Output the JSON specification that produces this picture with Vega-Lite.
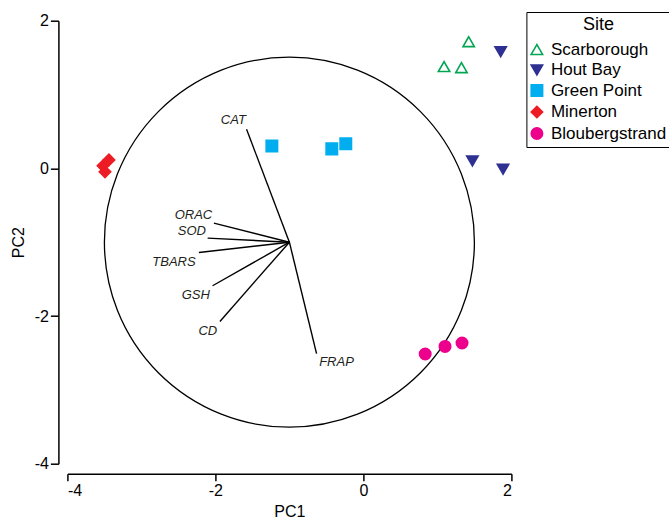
{
  "$schema": "https://vega.github.io/schema/vega-lite/v6.json",
  "autosize": "none",
  "width": 444,
  "height": 443,
  "padding": {"left": 67.4, "top": 20.7, "right": 157.6, "bottom": 56.3},
  "background": "white",
  "config": {
    "view": {"stroke": null},
    "font": "Liberation Sans",
    "axis": {
      "grid": false,
      "domainColor": "black",
      "domainWidth": 1.5,
      "tickColor": "black",
      "tickWidth": 1.5,
      "labelFont": "Liberation Sans",
      "labelFontSize": 16,
      "labelColor": "black",
      "titleFont": "Liberation Sans",
      "titleFontSize": 16,
      "titleFontWeight": "normal",
      "titleColor": "black"
    },
    "legend": {
      "titleFont": "Liberation Sans",
      "labelFont": "Liberation Sans"
    }
  },
  "datasets": {
    "sites": [
      {"Site": "Scarborough", "PC1": 1.423, "PC2": 1.716},
      {"Site": "Scarborough", "PC1": 1.09, "PC2": 1.378},
      {"Site": "Scarborough", "PC1": 1.325, "PC2": 1.364},
      {"Site": "Hout Bay", "PC1": 1.855, "PC2": 1.581},
      {"Site": "Hout Bay", "PC1": 1.473, "PC2": 0.101},
      {"Site": "Hout Bay", "PC1": 1.887, "PC2": -0.011},
      {"Site": "Green Point", "PC1": -1.237, "PC2": 0.304},
      {"Site": "Green Point", "PC1": -0.427, "PC2": 0.264},
      {"Site": "Green Point", "PC1": -0.238, "PC2": 0.332},
      {"Site": "Minerton", "PC1": -3.438, "PC2": 0.115},
      {"Site": "Minerton", "PC1": -3.519, "PC2": 0.034},
      {"Site": "Minerton", "PC1": -3.492, "PC2": -0.047},
      {"Site": "Bloubergstrand", "PC1": 0.835, "PC2": -2.514},
      {"Site": "Bloubergstrand", "PC1": 1.103, "PC2": -2.411},
      {"Site": "Bloubergstrand", "PC1": 1.333, "PC2": -2.365}
    ],
    "loadings": [
      {"var": "CAT", "x0": -1, "y0": -1, "x": -1.579, "y": 0.53, "lx": -1.588, "ly": 0.656, "side": "left"},
      {"var": "FRAP", "x0": -1, "y0": -1, "x": -0.633, "y": -2.51, "lx": -0.598, "ly": -2.623, "side": "right"},
      {"var": "ORAC", "x0": -1, "y0": -1, "x": -2.02, "y": -0.742, "lx": -2.043, "ly": -0.629, "side": "left"},
      {"var": "SOD", "x0": -1, "y0": -1, "x": -2.105, "y": -0.945, "lx": -2.128, "ly": -0.842, "side": "left"},
      {"var": "TBARS", "x0": -1, "y0": -1, "x": -2.223, "y": -1.139, "lx": -2.267, "ly": -1.269, "side": "left"},
      {"var": "GSH", "x0": -1, "y0": -1, "x": -2.038, "y": -1.59, "lx": -2.074, "ly": -1.721, "side": "left"},
      {"var": "CD", "x0": -1, "y0": -1, "x": -1.939, "y": -2.073, "lx": -1.976, "ly": -2.199, "side": "left"}
    ],
    "centre": [{"cx": -1, "cy": -1}]
  },
  "layer": [
    {
      "data": {"name": "centre"},
      "mark": {"type": "point", "shape": "circle", "filled": false, "size": 136900, "stroke": "black", "strokeWidth": 1.3, "opacity": 1},
      "encoding": {
        "x": {"field": "cx", "type": "quantitative", "scale": {"domain": [-4, 2], "nice": false, "zero": false},
              "axis": {"title": "PC1", "values": [-4, -2, 0, 2], "labelExpr": "toString(datum.value)", "offset": 10, "tickSize": 7, "labelPadding": 2, "titlePadding": 5}},
        "y": {"field": "cy", "type": "quantitative", "scale": {"domain": [-4, 2], "nice": false, "zero": false},
              "axis": {"title": "PC2", "values": [-4, -2, 0, 2], "labelExpr": "toString(datum.value)", "offset": 9, "tickSize": 8, "labelPadding": 2, "titlePadding": 8}}
      }
    },
    {
      "data": {"name": "loadings"},
      "mark": {"type": "rule", "color": "black", "strokeWidth": 1.4},
      "encoding": {
        "x": {"field": "x0", "type": "quantitative"},
        "y": {"field": "y0", "type": "quantitative"},
        "x2": {"field": "x"},
        "y2": {"field": "y"}
      }
    },
    {
      "data": {"name": "loadings"},
      "transform": [{"filter": "datum.side == 'left'"}],
      "mark": {"type": "text", "align": "right", "baseline": "middle", "fontStyle": "italic", "fontSize": 13, "font": "Liberation Sans", "color": "#231f20"},
      "encoding": {
        "x": {"field": "lx", "type": "quantitative"},
        "y": {"field": "ly", "type": "quantitative"},
        "text": {"field": "var"}
      }
    },
    {
      "data": {"name": "loadings"},
      "transform": [{"filter": "datum.side == 'right'"}],
      "mark": {"type": "text", "align": "left", "baseline": "middle", "fontStyle": "italic", "fontSize": 13, "font": "Liberation Sans", "color": "#231f20"},
      "encoding": {
        "x": {"field": "lx", "type": "quantitative"},
        "y": {"field": "ly", "type": "quantitative"},
        "text": {"field": "var"}
      }
    },
    {
      "data": {"name": "sites"},
      "mark": {"type": "point", "filled": false, "strokeWidth": 1.6, "opacity": 1, "size": 130},
      "encoding": {
        "x": {"field": "PC1", "type": "quantitative"},
        "y": {"field": "PC2", "type": "quantitative"},
        "shape": {"field": "Site", "type": "nominal",
                  "scale": {"domain": ["Scarborough", "Hout Bay", "Green Point", "Minerton", "Bloubergstrand"],
                            "range": ["triangle-up", "triangle-down", "square", "diamond", "circle"]},
                  "legend": {"title": "Site"}},
        "stroke": {"field": "Site", "type": "nominal",
                   "scale": {"domain": ["Scarborough", "Hout Bay", "Green Point", "Minerton", "Bloubergstrand"],
                             "range": ["#00a651", "#2e3192", "#00aeef", "#ed1c24", "#ec008c"]},
                   "legend": {"title": "Site"}},
        "fill": {"field": "Site", "type": "nominal",
                 "scale": {"domain": ["Scarborough", "Hout Bay", "Green Point", "Minerton", "Bloubergstrand"],
                           "range": ["#ffffff", "#2e3192", "#00aeef", "#ed1c24", "#ec008c"]},
                 "legend": {
                   "title": "Site",
                   "orient": "none",
                   "legendX": 459,
                   "legendY": -8.7,
                   "strokeColor": "black",
                   "padding": 4,
                   "titleFontSize": 18,
                   "titleFontWeight": "normal",
                   "titleColor": "black",
                   "titleAnchor": "middle",
                   "titleAlign": "center",
                   "titlePadding": 7,
                   "labelFontSize": 17,
                   "labelColor": "black",
                   "labelOffset": 5.5,
                   "symbolSize": 130,
                   "symbolStrokeWidth": 1.6,
                   "rowPadding": 2.5,
                   "symbolOffset": -2
                 }}
      }
    }
  ]
}
